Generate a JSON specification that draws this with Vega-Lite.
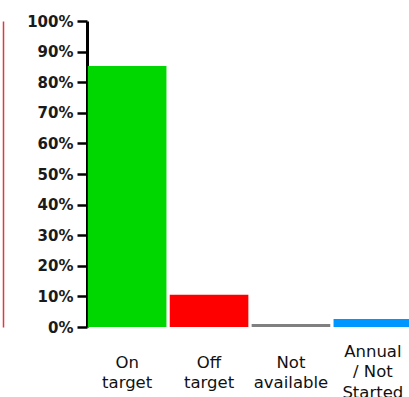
{
  "$schema": "https://vega.github.io/schema/vega-lite/v6.json",
  "autosize": "none",
  "padding": {"left": 87, "top": 21, "right": 0, "bottom": 70},
  "width": 326,
  "height": 306,
  "background": "white",
  "config": {"view": {"stroke": null}},
  "data": {"values": [
    {"status": "On target", "share": 0.853, "color": "#00d600"},
    {"status": "Off target", "share": 0.105, "color": "#ff0000"},
    {"status": "Not available", "share": 0.01, "color": "#808080"},
    {"status": "Annual / Not Started", "share": 0.026, "color": "#0096ff"}
  ]},
  "layer": [
    {
      "mark": {"type": "bar"},
      "encoding": {
        "x": {
          "field": "status", "type": "nominal", "sort": null,
          "scale": {"paddingInner": 0.04, "paddingOuter": 0.01},
          "axis": {
            "title": null, "domain": false, "ticks": false, "labelAngle": 0,
            "labelFont": "DejaVu Sans", "labelFontSize": 16.5, "labelColor": "#111",
            "labelBaseline": "middle", "labelLineHeight": 20.5,
            "labelPadding": {"condition": {"test": "datum.value == 'Annual / Not Started'", "value": 24}, "value": 35},
            "labelExpr": "datum.value == 'Annual / Not Started' ? ['Annual', '/ Not', 'Started'] : split(datum.value, ' ')"
          }
        },
        "y": {
          "field": "share", "type": "quantitative",
          "scale": {"domain": [0, 1], "nice": false},
          "axis": {
            "title": null, "format": ".0%", "values": [0, 0.1, 0.2, 0.3, 0.4, 0.5, 0.6, 0.7, 0.8, 0.9, 1],
            "grid": false, "domainColor": "#000", "domainWidth": 3,
            "tickColor": "#000", "tickWidth": 2.5, "tickSize": 10,
            "labelFont": "DejaVu Sans", "labelFontWeight": "bold", "labelFontSize": 15,
            "labelColor": "#1a1a1a", "labelPadding": 4
          }
        },
        "color": {"field": "color", "type": "nominal", "scale": null, "legend": null}
      }
    },
    {
      "mark": {"type": "rule", "opacity": 0},
      "encoding": {
        "y": {
          "field": "share", "type": "quantitative",
          "scale": {"domain": [0, 1], "nice": false},
          "axis": {
            "orient": "left", "title": null, "labels": false, "ticks": false, "grid": false,
            "domainColor": "#e03a3a", "domainWidth": 1.5, "offset": 84
          }
        }
      }
    }
  ],
  "resolve": {"axis": {"y": "independent"}}
}
